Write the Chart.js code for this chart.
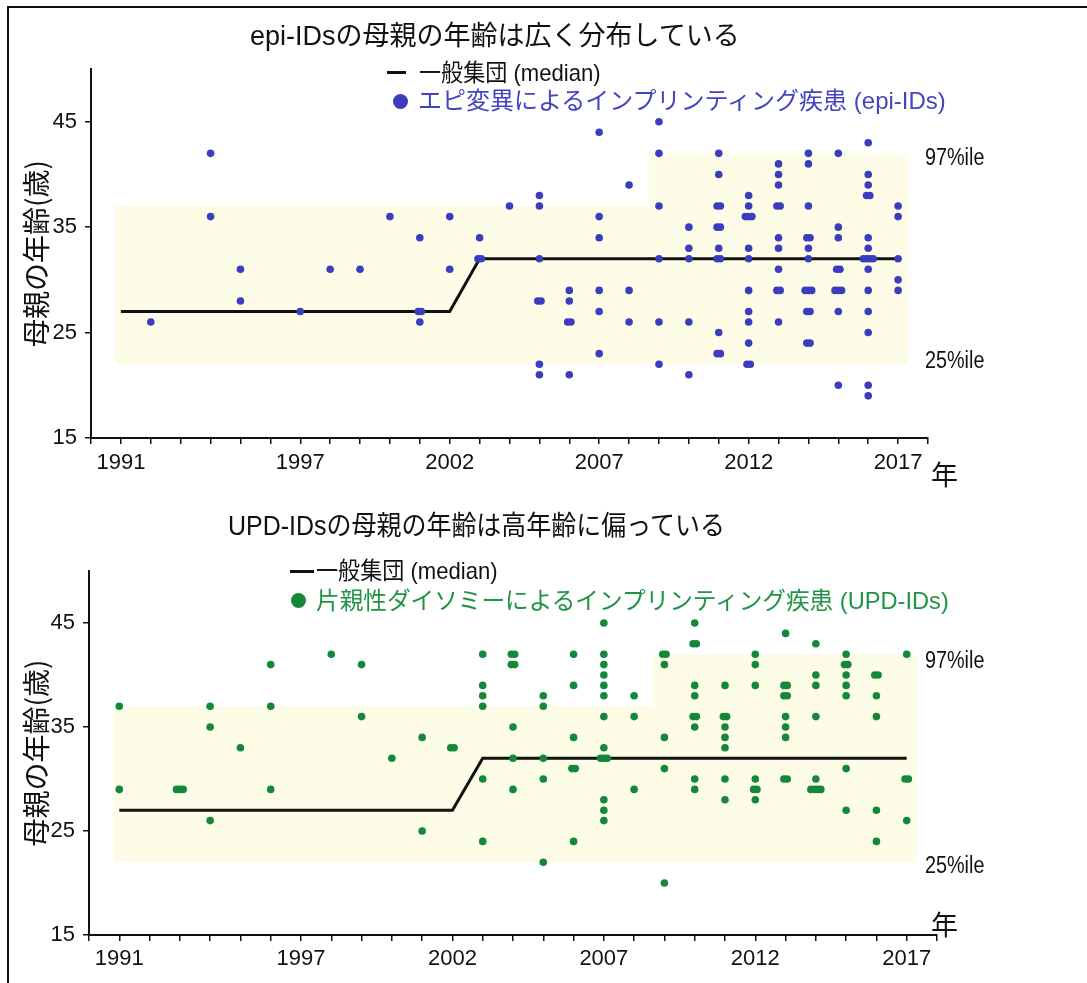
<!DOCTYPE html>
<html>
<head>
<meta charset="utf-8">
<script src="https://cdn.jsdelivr.net/npm/chart.js@4.4.1/dist/chart.umd.min.js"></script>
<style>
  html, body { margin: 0; padding: 0; background: #fff; }
  body { width: 1087px; height: 983px; position: relative; overflow: hidden;
         font-family: 'Liberation Sans Narrow', 'Arial Narrow', 'Liberation Sans', 'Noto Sans CJK JP', sans-serif; color: #111; }
  .frame { position: absolute; left: 7px; top: 6px; width: 1200px; height: 1200px;
           border-left: 2px solid #111; border-top: 2px solid #111; }
  canvas { position: absolute; left: 0; }
  .t { position: absolute; white-space: nowrap; line-height: 30px; height: 30px; transform-origin: left center; }
  .title { font-size: 27px; }
  .leg { font-size: 24px; }
  .pct { font-size: 23px; transform: scaleX(0.86); }
  .nen { font-size: 27px; font-family: 'Noto Sans CJK JP', sans-serif; }
  .line { position: absolute; height: 3px; background: #111; }
  .dot { position: absolute; width: 15px; height: 15px; border-radius: 50%; }
</style>
</head>
<body>
<div class="frame"></div>
<canvas id="c1" width="1087" height="490" style="top:0px"></canvas>
<canvas id="c2" width="1087" height="493" style="top:490px"></canvas>

<div class="t title" style="left:250px; top:21px;">epi-IDsの母親の年齢は広く分布している</div>
<div class="line" style="left:387px; top:71px; width:19px;"></div>
<div class="t leg" style="left:419px; top:58px; transform:scaleX(0.92);">一般集団 (median)</div>
<div class="dot" style="left:393px; top:94px; background:#3c3cbe;"></div>
<div class="t leg" style="left:418px; top:86px; color:#4444c2;">エピ変異によるインプリンティング疾患 (epi-IDs)</div>
<div class="t pct" style="left:925px; top:142px;">97%ile</div>
<div class="t pct" style="left:925px; top:345px;">25%ile</div>
<div class="t nen" style="left:931px; top:459px;">年</div>

<div class="t title" style="left:228px; top:511px; transform:scaleX(0.925);">UPD-IDsの母親の年齢は高年齢に偏っている</div>
<div class="line" style="left:290px; top:570px; width:24px;"></div>
<div class="t leg" style="left:316px; top:556px; transform:scaleX(0.92);">一般集団 (median)</div>
<div class="dot" style="left:291px; top:593px; background:#14883a;"></div>
<div class="t leg" style="left:316px; top:586px; color:#1f9444; transform:scaleX(0.985);">片親性ダイソミーによるインプリンティング疾患 (UPD-IDs)</div>
<div class="t pct" style="left:925px; top:645px;">97%ile</div>
<div class="t pct" style="left:925px; top:850px;">25%ile</div>
<div class="t nen" style="left:931px; top:909px;">年</div>

<script>
// ---------- data ----------
const xTickLabels = [1991, 1997, 2002, 2007, 2012, 2017];
const yTickValues = [15, 25, 35, 45];

// general population median of maternal age
const medianYears = [1991, 2002, 2003, 2017];
const medianAges  = [27, 27, 32, 32];

// general population percentile band (97%ile upper edge, 25%ile lower value)
const bandYears = [1990.8, 2008.65, 2008.65, 2017.35];
const band97    = [37, 37, 42, 42];
const band25    = 22;

// epi-IDs: maternal ages per year
const epiYears = [1992, 1994, 1995, 1997, 1998, 1999, 2000, 2001, 2002, 2003, 2004, 2005, 2006, 2007, 2008, 2009, 2010, 2011, 2012, 2013, 2014, 2015, 2016, 2017];
const epiAges = [
  [26],
  [42, 36],
  [31, 28],
  [27],
  [31],
  [31],
  [36],
  [34, 27, 27, 26],
  [36, 31],
  [34, 32, 32],
  [37],
  [38, 37, 32, 28, 28, 22, 21],
  [29, 28, 26, 26, 21],
  [44, 36, 34, 29, 27, 23],
  [39, 29, 26],
  [45, 42, 37, 32, 26, 22],
  [35, 33, 32, 26, 21],
  [42, 40, 37, 37, 35, 35, 33, 32, 32, 25, 23, 23],
  [38, 37, 36, 36, 36, 33, 32, 29, 27, 26, 24, 22, 22],
  [41, 40, 39, 37, 37, 34, 33, 31, 29, 29, 26],
  [42, 41, 37, 34, 34, 33, 32, 29, 29, 29, 27, 27, 24, 24],
  [42, 35, 34, 31, 31, 29, 29, 29, 27, 20],
  [43, 40, 39, 38, 38, 34, 33, 32, 32, 32, 32, 31, 29, 27, 25, 20, 19],
  [37, 36, 32, 30, 29]
];

// UPD-IDs: maternal ages per year
const updYears = [1991, 1993, 1994, 1995, 1996, 1998, 1999, 2000, 2001, 2002, 2003, 2004, 2005, 2006, 2007, 2008, 2009, 2010, 2011, 2012, 2013, 2014, 2015, 2016, 2017];
const updAges = [
  [37, 29],
  [29, 29, 29],
  [37, 35, 26],
  [33],
  [41, 37, 29],
  [42],
  [41, 36],
  [32],
  [34, 25],
  [33, 33],
  [42, 39, 38, 37, 30, 24],
  [42, 42, 41, 41, 35, 32, 29],
  [38, 37, 32, 30, 22],
  [42, 39, 34, 31, 31, 24],
  [45, 42, 41, 40, 39, 38, 36, 33, 32, 32, 32, 28, 27, 26],
  [38, 36, 29],
  [42, 42, 41, 34, 31, 20],
  [45, 43, 43, 39, 38, 36, 36, 35, 30, 29],
  [39, 36, 36, 35, 34, 33, 30, 28],
  [42, 41, 39, 30, 29, 29, 28],
  [44, 39, 39, 38, 38, 36, 35, 34, 30, 30],
  [43, 40, 39, 36, 30, 29, 29, 29, 29],
  [42, 41, 41, 40, 39, 38, 31, 27],
  [40, 40, 38, 36, 27, 24],
  [42, 30, 30, 26]
];

// ---------- helpers ----------
const NARROW = "'Liberation Sans Narrow', 'Arial Narrow', 'Liberation Sans', sans-serif";
const CJK = "'Noto Sans CJK JP', sans-serif";
const INK = '#111';
const BLUE = '#3c3cbe';
const GREEN = '#14883a';
const BAND = '#fdfde7';
const DUP_STEP = 0.11; // horizontal spread of identical values (years)

function buildPoints(years, ages) {
  const pts = [];
  years.forEach((yr, i) => {
    const counts = {};
    ages[i].forEach(a => counts[a] = (counts[a] || 0) + 1);
    Object.keys(counts).forEach(k => {
      const n = counts[k];
      for (let j = 0; j < n; j++) {
        pts.push({ x: yr + (j - (n - 1) / 2) * DUP_STEP, y: Number(k) });
      }
    });
  });
  return pts;
}
const zip = (xs, ys) => xs.map((x, i) => ({ x: x, y: ys[i] }));

function makeChart(id, pts, color, geom) {
  const canvas = document.getElementById(id);
  return new Chart(canvas, {
    type: 'scatter',
    data: {
      datasets: [
        {
          type: 'line', data: zip(bandYears, band97), order: 3,
          borderWidth: 0, borderColor: 'rgba(0,0,0,0)', pointRadius: 0,
          backgroundColor: BAND, fill: { value: band25 }
        },
        {
          type: 'line', data: zip(medianYears, medianAges), order: 2,
          borderColor: INK, borderWidth: 3, pointRadius: 0, fill: false,
          borderJoinStyle: 'miter'
        },
        {
          data: pts, order: 1,
          backgroundColor: color, borderWidth: 0, pointRadius: 3.8, pointHoverRadius: 3.8
        }
      ]
    },
    options: {
      responsive: false,
      animation: false,
      devicePixelRatio: 1,
      events: [],
      layout: { padding: { left: geom.padL, right: 1087 - geom.right, top: geom.top, bottom: 0 } },
      plugins: { legend: { display: false }, tooltip: { enabled: false }, title: { display: false } },
      scales: {
        x: {
          type: 'linear', min: 1990, max: 2018,
          afterFit: s => { s.height = geom.h - geom.bottom; },
          border: { display: true, color: INK, width: 2 },
          grid: { display: true, drawOnChartArea: false, drawTicks: true, tickLength: 6, color: INK, lineWidth: 1.5 },
          ticks: {
            stepSize: 1, autoSkip: false, maxRotation: 0, minRotation: 0,
            padding: geom.xPad, color: INK, font: { family: NARROW, size: 22 },
            callback: v => xTickLabels.includes(v) ? String(v) : ''
          }
        },
        y: {
          type: 'linear', min: 15, max: 50,
          afterFit: s => { s.width = geom.left - geom.padL; },
          afterBuildTicks: s => { s.ticks = yTickValues.map(v => ({ value: v })); },
          border: { display: true, color: INK, width: 2 },
          grid: { display: true, drawOnChartArea: false, drawTicks: true, tickLength: 6, color: INK, lineWidth: 1.5 },
          ticks: { padding: 8, color: INK, font: { family: NARROW, size: 22 } },
          title: { display: true, text: '母親の年齢(歳)', color: INK, font: { family: CJK, size: 28 }, padding: { top: 0, bottom: 0 } }
        }
      }
    }
  });
}

makeChart('c1', buildPoints(epiYears, epiAges), BLUE,
  { h: 490, left: 91, right: 928, top: 69, bottom: 438, padL: 20, xPad: 6 });
makeChart('c2', buildPoints(updYears, updAges), GREEN,
  { h: 493, left: 89, right: 937, top: 81, bottom: 445, padL: 20, xPad: 5 });
</script>
</body>
</html>
